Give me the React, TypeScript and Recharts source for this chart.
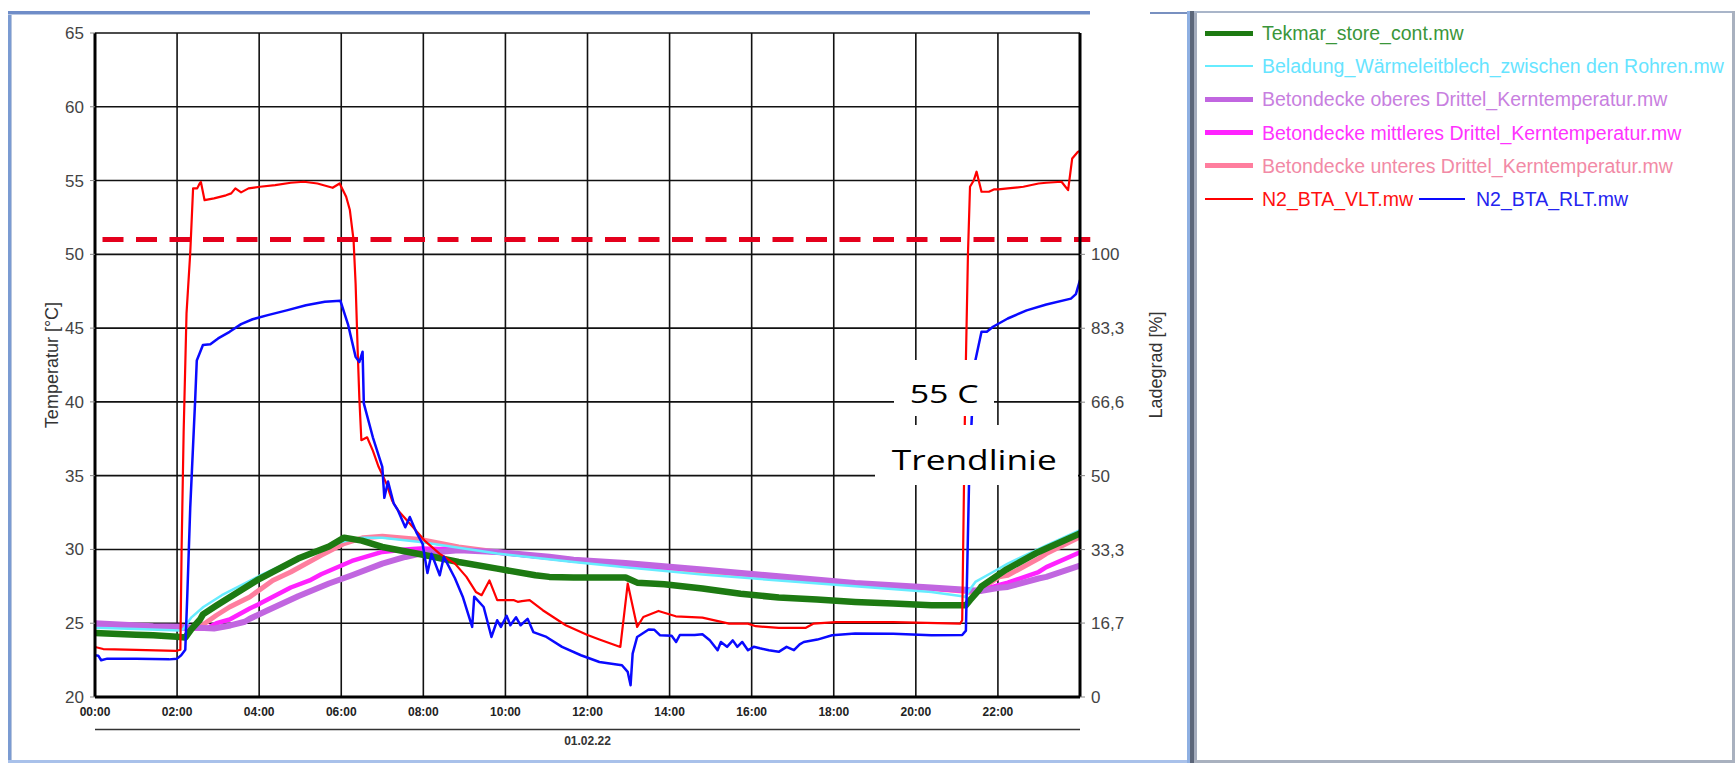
import React from 'react';
import { LineChart, Line, XAxis, YAxis, CartesianGrid, ReferenceLine } from 'recharts';

const FONT = '"Liberation Sans", Arial, sans-serif';

const hourTicks = [0, 2, 4, 6, 8, 10, 12, 14, 16, 18, 20, 22];
const tempTicks = [20, 25, 30, 35, 40, 45, 50, 55, 60, 65];
const chargeTicks = [0, 16.7, 33.3, 50, 66.6, 83.3, 100];
const setpoint = 51;
const dateLabel = '01.02.22';
const noteTop = '55 C';
const noteBottom = 'Trendlinie';
const leftAxisTitle = 'Temperatur [°C]';
const rightAxisTitle = 'Ladegrad [%]';

type P = [number, number];

const tekmar: P[] = [
  [0, 24.34], [1.0, 24.22], [1.42, 24.18], [2.0, 24.08], [2.2, 24.03], [2.35, 24.6], [2.56, 25.25],
  [2.63, 25.6], [2.96, 26.2], [3.36, 26.9], [3.94, 27.9], [4.95, 29.38], [5.7, 30.2], [6.07, 30.8],
  [6.5, 30.6], [7.0, 30.17], [7.93, 29.67], [8.86, 29.15], [9.8, 28.7], [10.73, 28.25], [11.07, 28.14],
  [11.66, 28.1], [12.93, 28.1], [13.21, 27.75], [13.87, 27.64], [14.8, 27.35], [15.73, 27.0],
  [16.66, 26.74], [17.59, 26.6], [18.52, 26.44], [19.45, 26.33], [20.38, 26.22], [21.22, 26.22],
  [21.32, 26.56], [21.53, 27.23], [21.6, 27.5], [22.18, 28.6], [22.99, 29.83], [23.18, 30.06], [24, 31.08],
];

const waermeleitblech: P[] = [
  [0, 24.7], [1.0, 24.6], [2.07, 24.5], [2.15, 24.6], [2.35, 25.4], [2.64, 26.1], [3.09, 26.9],
  [4.0, 28.2], [5.0, 29.5], [6.0, 30.5], [6.5, 30.8], [7.0, 30.8], [7.93, 30.5], [9.8, 29.72],
  [11.66, 29.15], [12.93, 28.8], [14.8, 28.3], [16.66, 27.9], [18.52, 27.5], [20.38, 27.12],
  [21.13, 26.83], [21.2, 26.78], [21.32, 27.3], [21.45, 27.8], [21.88, 28.47], [22.24, 29.04],
  [23.18, 30.28], [24, 31.3],
];

const oberesDrittel: P[] = [
  [0, 25.0], [1.42, 24.8], [2.07, 24.76], [2.9, 24.64], [3.3, 24.85], [3.65, 25.1], [3.77, 25.3],
  [4.21, 25.88], [4.95, 26.83], [5.7, 27.69], [6.26, 28.25], [7.0, 29.04], [7.56, 29.49], [7.93, 29.72],
  [8.86, 29.94], [9.8, 29.83], [11.07, 29.5], [11.66, 29.3], [12.93, 29.09], [14.8, 28.64],
  [16.66, 28.18], [18.52, 27.73], [20.38, 27.42], [21.13, 27.28], [21.6, 27.19], [22.03, 27.4],
  [22.24, 27.46], [22.99, 28.03], [23.18, 28.14], [24, 28.9],
];

const mittleresDrittel: P[] = [
  [0, 24.85], [1.0, 24.75], [2.0, 24.65], [2.72, 24.64], [2.96, 25.0], [3.28, 25.25], [3.77, 26.0],
  [4.02, 26.33], [4.77, 27.42], [5.23, 27.9], [5.51, 28.32], [6.26, 29.22], [7.0, 29.83], [7.56, 29.99],
  [7.93, 30.06], [8.86, 30.0], [9.8, 29.8], [11.66, 29.25], [12.93, 28.95], [14.8, 28.6], [16.66, 28.1],
  [18.52, 27.69], [20.38, 27.35], [21.13, 27.2], [21.6, 27.23], [22.03, 27.6], [22.24, 27.75],
  [22.99, 28.47], [23.18, 28.8], [24, 29.8],
];

const unteresDrittel: P[] = [
  [0, 24.9], [1.0, 24.8], [2.0, 24.7], [2.3, 24.64], [2.63, 24.9], [2.96, 25.54], [3.28, 26.1],
  [3.77, 26.78], [4.33, 27.9], [4.77, 28.47], [5.51, 29.6], [6.07, 30.4], [6.54, 30.8], [7.0, 30.9],
  [7.93, 30.67], [8.86, 30.17], [9.8, 29.83], [11.66, 29.3], [12.5, 29.1], [14.8, 28.54], [16.66, 28.1],
  [18.52, 27.69], [20.38, 27.35], [21.13, 27.19], [21.3, 27.1], [21.6, 27.35], [22.03, 28.14],
  [22.24, 28.25], [22.99, 29.38], [23.18, 29.72], [24, 30.85],
];

const vorlauf: P[] = [
  [0, 23.39], [0.2, 23.25], [0.48, 23.23], [1.0, 23.2], [1.97, 23.12], [2.08, 23.2], [2.11, 30],
  [2.16, 38], [2.23, 46], [2.32, 50.07], [2.39, 54.47], [2.49, 54.47], [2.55, 54.8], [2.58, 54.9],
  [2.67, 53.67], [2.9, 53.79], [3.19, 54.0], [3.32, 54.13], [3.42, 54.47], [3.56, 54.2], [3.74, 54.47],
  [4.02, 54.58], [4.39, 54.69], [4.77, 54.85], [5.09, 54.92], [5.42, 54.8], [5.79, 54.51], [5.96, 54.8],
  [6.12, 53.9], [6.21, 53.0], [6.3, 50.96], [6.35, 48], [6.4, 43.5], [6.44, 40.3], [6.49, 37.4],
  [6.63, 37.6], [6.77, 36.7], [6.91, 35.6], [7.1, 34.47], [7.24, 33.3], [7.38, 32.66], [7.75, 31.5],
  [8.03, 30.6], [8.4, 29.7], [8.77, 29.04], [9.05, 28.14], [9.28, 27.12], [9.42, 26.9], [9.61, 27.9],
  [9.8, 26.56], [10.21, 26.56], [10.3, 26.45], [10.4, 26.5], [10.59, 26.56], [10.91, 25.88],
  [11.47, 24.86], [12.0, 24.2], [12.29, 23.9], [12.8, 23.39], [12.98, 27.69], [13.21, 24.75],
  [13.36, 25.42], [13.73, 25.83], [14.15, 25.47], [14.8, 25.38], [15.45, 24.97], [15.91, 24.97],
  [16.1, 24.8], [16.66, 24.68], [17.31, 24.68], [17.5, 24.97], [18.05, 25.08], [19.45, 25.08],
  [21.08, 24.97], [21.13, 25.2], [21.2, 40], [21.27, 50], [21.32, 54.58], [21.41, 55.0], [21.48, 55.6],
  [21.6, 54.24], [21.78, 54.24], [21.9, 54.4], [22.01, 54.4], [22.24, 54.47], [22.62, 54.58],
  [22.99, 54.8], [23.18, 54.85], [23.55, 54.92], [23.71, 54.35], [23.81, 56.5], [23.95, 56.95], [24, 57.0],
];

const ruecklauf: P[] = [
  [0, 22.83], [0.08, 22.8], [0.15, 22.49], [0.3, 22.6], [1.0, 22.6], [1.8, 22.55], [2.0, 22.6],
  [2.1, 22.83], [2.2, 23.2], [2.25, 27], [2.32, 32.8], [2.44, 40.1], [2.48, 42.8], [2.63, 43.85],
  [2.81, 43.9], [3.0, 44.3], [3.28, 44.75], [3.56, 45.27], [3.84, 45.6], [4.21, 45.88], [4.67, 46.2],
  [5.14, 46.55], [5.6, 46.78], [5.98, 46.85], [6.17, 45.2], [6.35, 43.05], [6.44, 42.7], [6.52, 43.4],
  [6.55, 39.9], [6.77, 37.6], [7.0, 35.6], [7.05, 33.5], [7.14, 34.6], [7.28, 33.1], [7.38, 32.66],
  [7.56, 31.5], [7.67, 32.2], [7.84, 31.1], [7.98, 30.4], [8.1, 28.4], [8.2, 29.7], [8.4, 28.25],
  [8.5, 29.5], [8.77, 28.05], [8.96, 26.8], [9.19, 24.75], [9.24, 26.8], [9.47, 26.1], [9.66, 24.07],
  [9.8, 25.2], [9.89, 24.75], [10.03, 25.5], [10.12, 24.86], [10.26, 25.4], [10.37, 24.86],
  [10.54, 25.3], [10.68, 24.4], [11.0, 24.07], [11.38, 23.4], [11.84, 22.83], [12.29, 22.37],
  [12.84, 22.15], [12.98, 21.7], [13.05, 20.8], [13.1, 22.94], [13.21, 24.07], [13.49, 24.57],
  [13.63, 24.55], [13.77, 24.18], [14.05, 24.15], [14.16, 23.73], [14.25, 24.2], [14.61, 24.2],
  [14.8, 24.25], [14.98, 23.84], [15.17, 23.17], [15.25, 23.73], [15.4, 23.4], [15.54, 23.84],
  [15.65, 23.4], [15.77, 23.73], [15.91, 23.17], [16.05, 23.4], [16.2, 23.3], [16.42, 23.17],
  [16.66, 23.06], [16.85, 23.4], [17.03, 23.17], [17.17, 23.57], [17.27, 23.73], [17.6, 23.89],
  [17.96, 24.18], [18.52, 24.3], [19.45, 24.28], [20.38, 24.18], [21.13, 24.2], [21.22, 24.5],
  [21.3, 35], [21.38, 40], [21.45, 42.8], [21.6, 44.75], [21.73, 44.75], [21.88, 45.09], [22.24, 45.65],
  [22.7, 46.2], [23.18, 46.6], [23.78, 47.0], [23.9, 47.3], [24.0, 48.25],
];

const toRows = (pts: P[]) => pts.map(([t, v]) => ({ t, v }));

type S = { key: string; name: string; pts: P[]; color: string; width: number; legendWidth: number; text: string };

const SERIES: Record<string, S> = {
  tekmar: { key: 'tekmar', name: 'Tekmar_store_cont.mw', pts: tekmar, color: '#1D7A12', width: 6.5, legendWidth: 5, text: '#3A963A' },
  blech: { key: 'blech', name: 'Beladung_Wärmeleitblech_zwischen den Rohren.mw', pts: waermeleitblech, color: '#66ECFF', width: 2.5, legendWidth: 2, text: '#66E4FF' },
  oben: { key: 'oben', name: 'Betondecke oberes Drittel_Kerntemperatur.mw', pts: oberesDrittel, color: '#C166E0', width: 6, legendWidth: 5, text: '#C87FE0' },
  mitte: { key: 'mitte', name: 'Betondecke mittleres Drittel_Kerntemperatur.mw', pts: mittleresDrittel, color: '#FF22FF', width: 4.5, legendWidth: 5, text: '#FF33FF' },
  unten: { key: 'unten', name: 'Betondecke unteres Drittel_Kerntemperatur.mw', pts: unteresDrittel, color: '#FF7E9E', width: 5, legendWidth: 5, text: '#F28AA6' },
  vl: { key: 'vl', name: 'N2_BTA_VLT.mw', pts: vorlauf, color: '#FF0000', width: 2.2, legendWidth: 2.5, text: '#FF1010' },
  rl: { key: 'rl', name: 'N2_BTA_RLT.mw', pts: ruecklauf, color: '#0A0AFF', width: 2.5, legendWidth: 2.5, text: '#2424F0' },
};

const drawOrder = ['unten', 'mitte', 'oben', 'blech', 'tekmar', 'vl', 'rl'];
const legendRows = [['tekmar'], ['blech'], ['oben'], ['mitte'], ['unten'], ['vl', 'rl']];

const fmtHour = (h: number) => (h < 10 ? '0' : '') + h + ':00';
const fmtCharge = (v: number) => String(v).replace('.', ',');

function LeftTitle(props: any) {
  const vb = props.viewBox || { x: 25, y: 33, width: 70, height: 664 };
  const cx = vb.x + 27;
  const cy = vb.y + vb.height / 2;
  return (
    <text x={cx} y={cy} transform={`rotate(-90, ${cx}, ${cy})`} textAnchor="middle" dominantBaseline="central"
      fontSize={18} fontFamily={FONT} fill="#333">{leftAxisTitle}</text>
  );
}

function RightTitle(props: any) {
  const vb = props.viewBox || { x: 1080, y: 33, width: 70, height: 664 };
  const cx = vb.x + 76;
  const cy = vb.y + vb.height / 2;
  return (
    <text x={cx} y={cy} transform={`rotate(-90, ${cx}, ${cy})`} textAnchor="middle" dominantBaseline="central"
      fontSize={18} fontFamily={FONT} fill="#333">{rightAxisTitle}</text>
  );
}

function DateLabel(props: any) {
  const vb = props.viewBox || { x: 95, y: 697, width: 985, height: 40 };
  return (
    <g>
      <line x1={vb.x} x2={vb.x + vb.width} y1={vb.y + 32.5} y2={vb.y + 32.5} stroke="#333" strokeWidth={1.4} />
      <text x={vb.x + vb.width / 2} y={vb.y + 47.5} textAnchor="middle" fontSize={12} fontWeight="bold"
        fontFamily={FONT} fill="#333">{dateLabel}</text>
    </g>
  );
}

const frame = (s: React.CSSProperties): React.CSSProperties => ({ position: 'absolute', ...s });

export default function App() {
  return (
    <div style={{ position: 'absolute', left: 0, top: 0, width: 1735, height: 763, background: '#fff', overflow: 'hidden' }}>
      <div style={frame({ left: 0, top: 0 })}>
        <LineChart width={1735} height={763} margin={{ top: 33, right: 585, bottom: 26, left: 25 }}>
          <CartesianGrid yAxisId="left" stroke="#111" strokeWidth={1.6} />
          <XAxis dataKey="t" type="number" domain={[0, 24]} ticks={hourTicks} interval={0} tickFormatter={fmtHour}
            allowDataOverflow height={40} tickLine={false} tickSize={6} tickMargin={4}
            axisLine={{ stroke: '#000', strokeWidth: 3 }}
            tick={{ fill: '#222', fontSize: 12, fontWeight: 'bold', fontFamily: FONT }}
            label={<DateLabel />} />
          <YAxis yAxisId="left" type="number" domain={[20, 65]} ticks={tempTicks} interval={0} allowDataOverflow
            width={70} tickSize={5} tickMargin={6} tickLine={{ stroke: '#888' }}
            axisLine={{ stroke: '#000', strokeWidth: 3 }}
            tick={{ fill: '#444', fontSize: 17, fontFamily: FONT }}
            label={<LeftTitle />} />
          <YAxis yAxisId="right" orientation="right" type="number" domain={[0, 150]} ticks={chargeTicks} interval={0}
            allowDataOverflow width={70} tickSize={5} tickMargin={6} tickLine={{ stroke: '#888' }}
            tickFormatter={fmtCharge} axisLine={{ stroke: '#000', strokeWidth: 3 }}
            tick={{ fill: '#444', fontSize: 17, fontFamily: FONT }}
            label={<RightTitle />} />
          <ReferenceLine yAxisId="left" segment={[{ x: 0, y: setpoint }, { x: 24.25, y: setpoint }]} ifOverflow="visible"
            stroke="#E4001C" strokeWidth={5} strokeDasharray="21 12.5" strokeDashoffset={26} />
          {drawOrder.map((k) => {
            const s = SERIES[k];
            return (
              <Line key={k} yAxisId="left" data={toRows(s.pts)} dataKey="v" name={s.name} type="linear"
                stroke={s.color} strokeWidth={s.width} dot={false} activeDot={false} isAnimationActive={false}
                strokeLinejoin="round" strokeLinecap="round" />
            );
          })}
        </LineChart>
      </div>

      {/* annotation boxes */}
      <svg width={1735} height={763} style={frame({ left: 0, top: 0, pointerEvents: 'none' })}>
        <rect x={894} y={360} width={100} height={56} fill="#fff" />
        <rect x={875} y={425} width={203} height={60} fill="#fff" />
        <text x={909.7} y={403} fontSize={25} fontFamily='"Open Sans", sans-serif' fill="#000" textLength={69}
          lengthAdjust="spacingAndGlyphs">{noteTop}</text>
        <text x={891.8} y={470} fontSize={28} fontFamily='"Open Sans", sans-serif' fill="#000" textLength={165}
          lengthAdjust="spacingAndGlyphs">{noteBottom}</text>
      </svg>

      {/* window frame of the chart panel */}
      <div style={frame({ left: 8, top: 11, width: 3, height: 751, background: '#7B9BD2' })} />
      <div style={frame({ left: 11, top: 13, width: 1, height: 747, background: '#B8C6DE' })} />
      <div style={frame({ left: 8, top: 11, width: 1082, height: 3, background: '#6F8DC8' })} />
      <div style={frame({ left: 8, top: 14, width: 1082, height: 1, background: '#B9C8E2' })} />
      <div style={frame({ left: 8, top: 760, width: 1182, height: 3, background: '#A9C1EA' })} />
      <div style={frame({ left: 1150, top: 12, width: 40, height: 2, background: '#7890C0' })} />

      {/* legend panel */}
      <div style={frame({ left: 1187, top: 11, width: 3, height: 752, background: '#8FB0E2' })} />
      <div style={frame({ left: 1190, top: 11, width: 4, height: 752, background: '#5C6679' })} />
      <div style={frame({ left: 1194, top: 11, width: 3, height: 752, background: '#A4ACBC' })} />
      <div style={frame({ left: 1194, top: 11, width: 541, height: 2, background: '#A9B5C9' })} />
      <div style={frame({ left: 1732, top: 11, width: 3, height: 752, background: '#A9B1BF' })} />
      <div style={frame({ left: 1194, top: 760, width: 541, height: 3, background: '#A9B1BF' })} />

      {legendRows.map((row, i) => (
        <div key={i} style={frame({ left: 1205, top: 33 + i * 33.2 - 13, height: 26, display: 'flex', alignItems: 'center', whiteSpace: 'nowrap' })}>
          {row.map((k, j) => {
            const s = SERIES[k];
            return (
              <React.Fragment key={k}>
                <div style={{ width: j === 0 ? 48 : 46, height: s.legendWidth, background: s.color, marginLeft: j === 0 ? 0 : 6, marginRight: j === 0 ? 9 : 11 }} />
                <span style={{ fontFamily: FONT, fontSize: 19.5, color: s.text, lineHeight: '26px' }}>{s.name}</span>
              </React.Fragment>
            );
          })}
        </div>
      ))}
    </div>
  );
}
